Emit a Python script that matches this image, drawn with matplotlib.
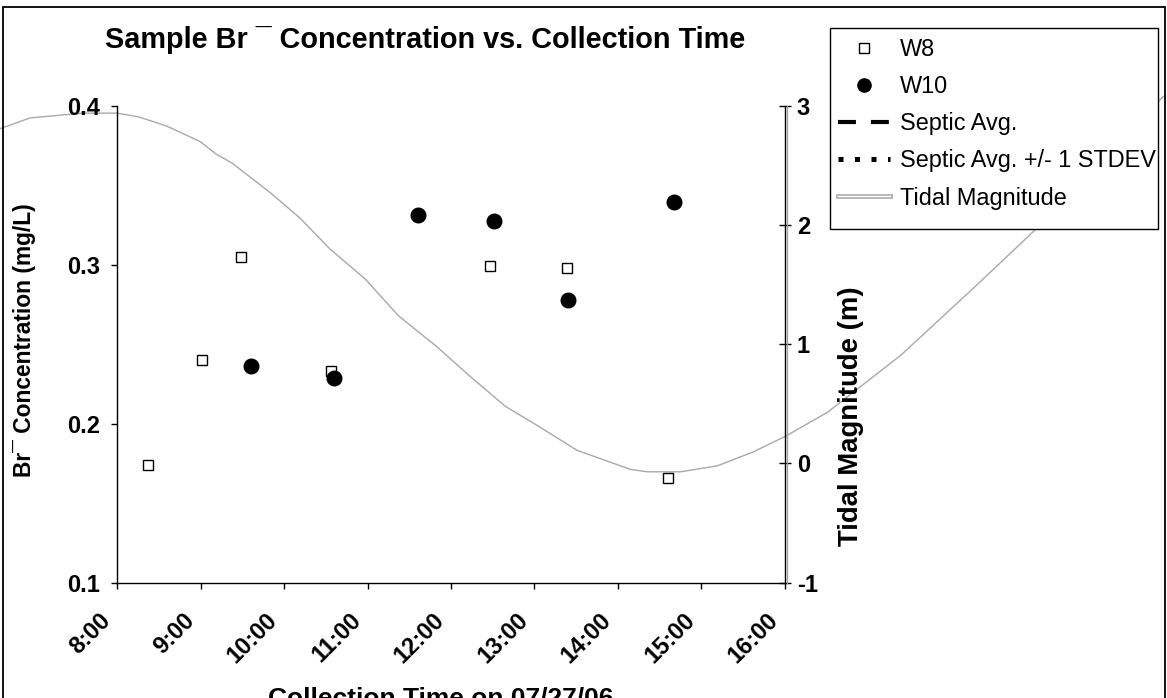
import matplotlib
matplotlib.use('Agg')
import matplotlib.pyplot as plt
from matplotlib.lines import Line2D
from matplotlib.patches import Rectangle
import matplotlib.transforms as mtransforms
import matplotlib.patheffects as pe

plt.rcParams['font.family'] = ['Liberation Sans', 'DejaVu Sans']

# ---------------- data ----------------
w8_times = ["8:22", "9:01", "9:29", "10:34", "12:28", "13:23", "14:36"]
w8_br = [0.174, 0.240, 0.305, 0.233, 0.299, 0.298, 0.166]

w10_times = ["9:36", "10:36", "11:36", "12:31", "13:24", "14:40"]
w10_br = [0.2365, 0.2286, 0.3316, 0.3276, 0.278, 0.3396]

tide_hours = [6.60, 6.96, 7.59, 8.00, 8.25, 8.43, 8.60, 9.00, 9.18, 9.38,
              9.84, 10.19, 10.55, 10.97, 11.37, 11.83, 12.23, 12.65, 13.03,
              13.51, 14.15, 14.35, 14.75, 15.19, 15.63, 16.01, 16.51, 17.39,
              18.27, 19.01, 20.53]
tide_m = [2.81, 2.90, 2.94, 2.94, 2.91, 2.87, 2.83, 2.70, 2.60, 2.52,
          2.27, 2.06, 1.80, 1.55, 1.24, 0.98, 0.73, 0.48, 0.32,
          0.11, -0.05, -0.07, -0.07, -0.02, 0.10, 0.23, 0.43, 0.91,
          1.48, 1.97, 3.08]

x_tick_labels = ["8:00", "9:00", "10:00", "11:00", "12:00", "13:00",
                 "14:00", "15:00", "16:00"]
y_left_ticks = [0.1, 0.2, 0.3, 0.4]
y_right_ticks = [-1, 0, 1, 2, 3]


def to_hours(s):
    h, m = s.split(":")
    return int(h) + int(m) / 60.0


w8_x = [to_hours(t) for t in w8_times]
w10_x = [to_hours(t) for t in w10_times]
x_ticks = [to_hours(t) for t in x_tick_labels]

# ---------------- figure ----------------
W, H = 1167, 698
fig = plt.figure(figsize=(W / 100, H / 100), dpi=100)
fig.patch.set_facecolor('white')

ax = fig.add_axes([117 / W, 1 - 582.6 / H, 668 / W, 476.6 / H])
ax2 = ax.twinx()
ax.set_zorder(ax2.get_zorder() + 1)
ax.patch.set_visible(False)

# tidal line (not clipped, runs off the plot area)
ax2.plot(tide_hours, tide_m, color='#a8a8a8', lw=1.0, clip_on=False, zorder=2)

# samples
ax.plot(w8_x, w8_br, ls='none', marker='s', ms=7.5, mfc='white', mec='black',
        mew=1.0, clip_on=False, zorder=3)
ax.plot(w10_x, w10_br, ls='none', marker='o', ms=10.5, mfc='black',
        mec='black', clip_on=False, zorder=4)

ax.set_xlim(8, 16)
ax.set_ylim(0.1, 0.4)
ax2.set_ylim(-1, 3)

for a in (ax, ax2):
    a.spines['top'].set_visible(False)
ax.spines['right'].set_visible(False)
ax2.spines['left'].set_visible(False)
ax2.spines['bottom'].set_visible(False)
for s in ('left', 'bottom'):
    ax.spines[s].set_color('black')
    ax.spines[s].set_linewidth(1.0)
ax2.spines['right'].set_color('black')
ax2.spines['right'].set_linewidth(1.0)

# gray companion line next to right axis
off = mtransforms.ScaledTranslation(2.5 / 100, 0, fig.dpi_scale_trans)
ax2.add_line(Line2D([1, 1], [0, 1], transform=ax2.transAxes + off,
                    color='#a0a0a0', lw=0.9, clip_on=False))

ax.set_xticks(x_ticks)
ax.set_xticklabels(x_tick_labels, fontsize=17, fontweight='bold',
                   rotation=45, ha='right', va='center',
                   rotation_mode='anchor')
ax.set_yticks(y_left_ticks)
ax.set_yticklabels(["%.1f" % v for v in y_left_ticks], fontsize=17,
                   fontweight='bold')
ax2.set_yticks(y_right_ticks)
ax2.set_yticklabels([str(v) for v in y_right_ticks], fontsize=17,
                    fontweight='bold')

ax.tick_params(axis='x', direction='out', length=4.5, width=1, pad=20)
ax.tick_params(axis='y', direction='out', length=4.5, width=1, pad=8)
ax2.tick_params(axis='y', direction='inout', length=9, width=1, pad=4)

# shift x tick labels left a bit
shift = mtransforms.ScaledTranslation(-10 / 100, 0, fig.dpi_scale_trans)
for lab in ax.get_xticklabels():
    lab.set_transform(lab.get_transform() + shift)

# titles
fig.text(425 / W, 1 - 48 / H, 'Sample Br \u00af Concentration vs. Collection Time',
         ha='center', va='baseline', fontsize=20.8, fontweight='bold')
fig.text(25 / W, 1 - 340 / H, 'Br\u00af Concentration (mg/L)', rotation=90,
         ha='center', va='center', fontsize=16.4, fontweight='bold')
fig.text(851 / W, 1 - 416 / H, 'Tidal Magnitude (m)', rotation=90,
         ha='center', va='center', fontsize=19.8, fontweight='bold')
fig.text(441 / W, 1 - 706 / H, 'Collection Time on 07/27/06',
         ha='center', va='baseline', fontsize=19, fontweight='bold')

# figure border
fig.patches.append(Rectangle((3 / W, -0.2), 1162 / W, 1.2 - 7 / H,
                             transform=fig.transFigure, fill=False,
                             edgecolor='black', lw=1.3, zorder=10))

# legend box (drawn explicitly)
fig.patches.append(Rectangle((830 / W, 1 - 229 / H), 328 / W, 201 / H,
                             transform=fig.transFigure, facecolor='white',
                             edgecolor='black', lw=1.0, zorder=4))

# legend
h_w8 = Line2D([], [], ls='none', marker='s', ms=7, mfc='white', mec='black', mew=1)
h_w10 = Line2D([], [], ls='none', marker='o', ms=9.5, mfc='black', mec='black')
h_avg = Line2D([], [], color='black', lw=3, dashes=(4.3, 3.6),
               dash_capstyle='butt')
h_sd = Line2D([], [], color='black', lw=3.6, dashes=(1, 2.3),
              dash_capstyle='butt')
h_tide = Line2D([], [], color='white', lw=1.0,
                path_effects=[pe.Stroke(linewidth=3.5, foreground='#b0b0b0'),
                              pe.Normal()])
leg = fig.legend([h_w8, h_w10, h_avg, h_sd, h_tide],
                 ['W8', 'W10', 'Septic Avg.', 'Septic Avg. +/- 1 STDEV',
                  'Tidal Magnitude'],
                 loc='upper left', bbox_to_anchor=(830 / W, 1 - 30 / H),
                 bbox_transform=fig.transFigure, borderaxespad=0,
                 frameon=False, fontsize=16.9, handlelength=2.2,
                 handletextpad=0.42, borderpad=0.35, labelspacing=0.6)
leg.set_zorder(6)

fig.savefig('out.png', dpi=100)
